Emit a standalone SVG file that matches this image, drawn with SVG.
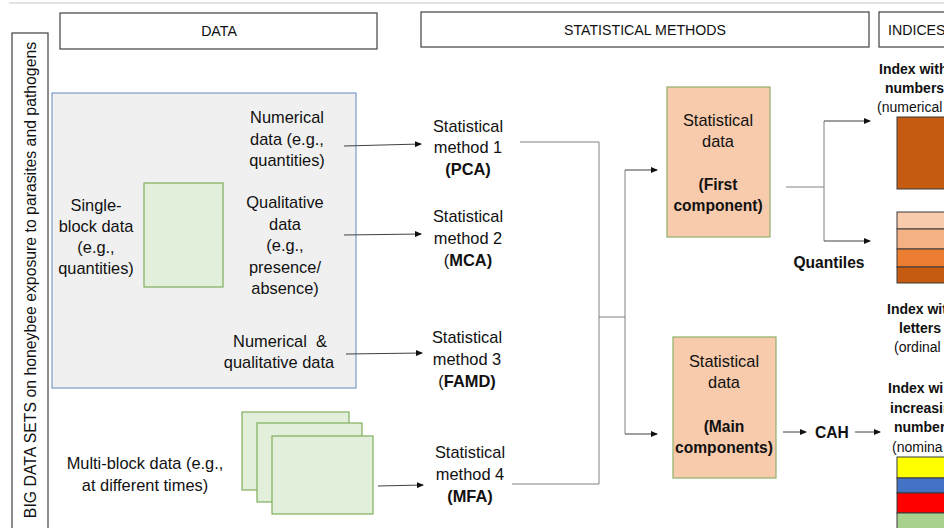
<svg xmlns="http://www.w3.org/2000/svg" width="944" height="528" viewBox="0 0 944 528">
<style>
text{font-family:"Liberation Sans",Arial,sans-serif;fill:#111;}
.hd{font-size:14.2px;}
.t{font-size:16.4px;text-anchor:middle;}
.b{font-weight:bold;}
.tb{font-size:15.6px;font-weight:bold;text-anchor:middle;}
.ix{font-size:14px;}
.hbox{fill:#fff;stroke:#404040;stroke-width:1.2;}
.green{fill:#e2efda;stroke:#7fae5c;stroke-width:1.2;}
.sd{fill:#f8cbad;stroke:#8fb06a;stroke-width:1.2;}
.ln{fill:none;stroke:#808080;stroke-width:1;}
.ar{fill:none;stroke:#404040;stroke-width:1;marker-end:url(#ah);}
.band{stroke:#3a3a3a;stroke-width:1;}
</style>
<defs>
<marker id="ah" markerWidth="7" markerHeight="6" refX="6" refY="3" orient="auto" markerUnits="userSpaceOnUse">
<path d="M0,0 L7,3 L0,6 Z" fill="#111"/>
</marker>
</defs>
<line x1="9" y1="3" x2="944" y2="3" stroke="#d9d9d9" stroke-width="1.5"/>

<g id="side-title">
<rect x="12" y="33" width="36" height="510" class="hbox"/>
<text transform="translate(36,280) rotate(-90)" style="font-size:15.8px;text-anchor:middle">BIG DATA SETS on honeybee exposure to parasites and pathogens</text>
</g>

<g id="header-data">
<rect x="60" y="13" width="317" height="36" class="hbox"/>
<text x="219" y="36" class="hd" text-anchor="middle">DATA</text>
</g>
<g id="header-methods">
<rect x="421" y="12" width="448" height="35" class="hbox"/>
<text x="645" y="35" class="hd" text-anchor="middle">STATISTICAL METHODS</text>
</g>
<g id="header-indices">
<rect x="879" y="12" width="80" height="35" class="hbox"/>
<text x="888" y="35" class="hd">INDICES</text>
</g>

<g id="single-block-panel">
<rect x="52" y="93" width="304" height="295" fill="#f0f0f0" stroke="#7a9cc6" stroke-width="1.2"/>
<rect x="144" y="183" width="79" height="104" class="green"/>
<text class="t"><tspan x="96" y="211">Single-</tspan><tspan x="96" y="232">block data</tspan><tspan x="96" y="253">(e.g.,</tspan><tspan x="96" y="274">quantities)</tspan></text>
</g>
<g id="numerical-data">
<text class="t"><tspan x="287" y="123">Numerical</tspan><tspan x="287" y="145">data (e.g.,</tspan><tspan x="287" y="166">quantities)</tspan></text>
</g>
<g id="qualitative-data">
<text class="t"><tspan x="285" y="208">Qualitative</tspan><tspan x="285" y="230">data</tspan><tspan x="285" y="251">(e.g.,</tspan><tspan x="285" y="273">presence/</tspan><tspan x="285" y="294">absence)</tspan></text>
</g>
<g id="mixed-data">
<text class="t"><tspan x="280" y="347">Numerical &#160;&amp;</tspan><tspan x="279" y="368">qualitative data</tspan></text>
</g>

<g id="multi-block">
<rect x="242" y="412" width="107" height="78" class="green"/>
<rect x="257" y="423" width="105" height="79" class="green"/>
<rect x="272" y="436" width="101" height="78" class="green"/>
<text class="t"><tspan x="145" y="469">Multi-block data (e.g.,</tspan><tspan x="145" y="491">at different times)</tspan></text>
</g>

<g id="method-1">
<text class="t"><tspan x="468" y="132">Statistical</tspan><tspan x="468" y="153">method 1</tspan><tspan x="468" y="175" class="b">(PCA)</tspan></text>
</g>
<g id="method-2">
<text class="t"><tspan x="468" y="222">Statistical</tspan><tspan x="468" y="244">method 2</tspan><tspan x="468" y="266">(<tspan class="b">MCA)</tspan></tspan></text>
</g>
<g id="method-3">
<text class="t"><tspan x="467" y="343">Statistical</tspan><tspan x="467" y="365">method 3</tspan><tspan x="467" y="387">(<tspan class="b">FAMD)</tspan></tspan></text>
</g>
<g id="method-4">
<text class="t"><tspan x="470" y="458">Statistical</tspan><tspan x="470" y="480">method 4</tspan><tspan x="470" y="502" class="b">(MFA)</tspan></text>
</g>

<g id="stat-data-first">
<rect x="667" y="87" width="103" height="150" class="sd"/>
<text class="t"><tspan x="718" y="126">Statistical</tspan><tspan x="718" y="147">data</tspan></text>
<text class="tb"><tspan x="718" y="190">(First</tspan><tspan x="718" y="211">component)</tspan></text>
</g>
<g id="stat-data-main">
<rect x="673" y="337" width="103" height="141" class="sd"/>
<text class="t"><tspan x="724" y="367">Statistical</tspan><tspan x="724" y="388">data</tspan></text>
<text class="tb"><tspan x="724" y="432">(Main</tspan><tspan x="724" y="453">components)</tspan></text>
</g>

<g id="quantiles-label">
<text x="829" y="268" class="tb">Quantiles</text>
</g>
<g id="cah">
<text x="832" y="438" class="tb">CAH</text>
</g>

<g id="index-numerical">
<text class="ix"><tspan x="879" y="74" class="b">Index with</tspan><tspan x="885" y="93" class="b">numbers</tspan><tspan x="877" y="112">(numerical</tspan></text>
<rect x="897" y="117" width="60" height="72" fill="#c55a11" stroke="#3a3a3a" stroke-width="1"/>
</g>
<g id="index-quantiles">
<rect x="897" y="212" width="60" height="17" fill="#f8cbad" class="band"/>
<rect x="897" y="229" width="60" height="20" fill="#f4b183" class="band"/>
<rect x="897" y="249" width="60" height="18" fill="#ed7d31" class="band"/>
<rect x="897" y="267" width="60" height="16" fill="#c55a11" class="band"/>
</g>
<g id="index-ordinal">
<text class="ix"><tspan x="887" y="314" class="b">Index wit</tspan><tspan x="899" y="333" class="b">letters</tspan><tspan x="894" y="352">(ordinal</tspan></text>
</g>
<g id="index-nominal">
<text class="ix"><tspan x="888" y="393" class="b">Index wi</tspan><tspan x="890" y="413" class="b">increasin</tspan><tspan x="894" y="432" class="b">number</tspan><tspan x="892" y="452">(nomina</tspan></text>
<rect x="897" y="457" width="60" height="21" fill="#ffff00" class="band"/>
<rect x="897" y="478" width="60" height="15" fill="#4472c4" class="band"/>
<rect x="897" y="493" width="60" height="20" fill="#ff0000" class="band"/>
<rect x="897" y="513" width="60" height="25" fill="#a9d18e" class="band"/>
</g>

<g id="connectors">
<line x1="344" y1="146" x2="421" y2="144" class="ar"/>
<line x1="344" y1="235" x2="421" y2="234" class="ar"/>
<line x1="346" y1="354" x2="422" y2="353" class="ar"/>
<line x1="378" y1="486" x2="423" y2="485" class="ar"/>
<polyline points="520,142 599,142 599,484 512,484" class="ln"/>
<line x1="599" y1="317" x2="625" y2="317" class="ln"/>
<line x1="625" y1="170" x2="625" y2="434" class="ln"/>
<line x1="625" y1="170" x2="657" y2="170" class="ar"/>
<line x1="625" y1="434" x2="657" y2="434" class="ar"/>
<polyline points="786,187 824,187" class="ln"/>
<line x1="824" y1="121" x2="824" y2="241" class="ln"/>
<line x1="824" y1="121" x2="870" y2="121" class="ar"/>
<line x1="824" y1="241" x2="870" y2="241" class="ar"/>
<line x1="783" y1="432" x2="806" y2="432" class="ar"/>
<line x1="855" y1="432" x2="880" y2="432" class="ar"/>
</g>
</svg>
